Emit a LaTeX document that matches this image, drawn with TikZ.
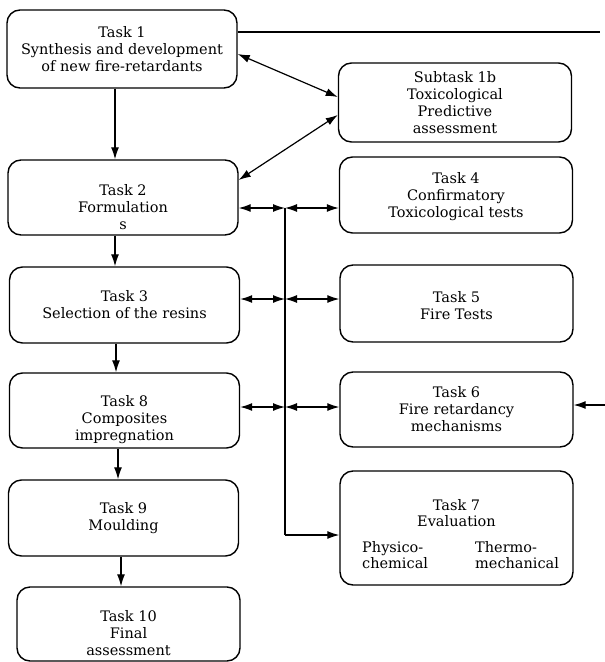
\documentclass[tikz,border=0pt]{standalone}
\usepackage{fontspec}
\setmainfont{DejaVu Serif}
\usetikzlibrary{arrows.meta}

\newcommand{\lowered}{\rule{0pt}{30pt}}

\tikzset{
  taskbox/.style={draw, line width=1.4pt, rounded corners=13pt, align=center,
    font=\fontsize{14.5}{17}\selectfont, inner sep=2pt},
  leftbox/.style={taskbox, minimum width=230pt, minimum height=76pt},
  rightbox/.style={taskbox, minimum width=233pt, minimum height=77pt},
  boxtext/.style={align=left, font=\fontsize{14.5}{16}\selectfont, inner sep=0pt},
  link/.style={line width=1.2pt, -{Latex[length=12pt,width=8pt]}},
  dlink/.style={line width=1.2pt, {Latex[length=12pt,width=8pt]}-{Latex[length=12pt,width=8pt]}},
}

\begin{document}
\begin{tikzpicture}[x=1pt,y=-1pt]
  \useasboundingbox (0,0) rectangle (605,662);

  % left column
  \node[leftbox, minimum height=78pt] (t1) at (122,49) {Task 1\\Synthesis and development\\of new fire-retardants};
  \node[leftbox, minimum height=75pt] (t2) at (123,197.5) {\lowered Task 2\\Formulation\\s};
  \node[leftbox] (t3) at (124.5,305) {Task 3\\Selection of the resins};
  \node[leftbox, minimum height=75pt] (t8) at (124.5,410.5) {\lowered Task 8\\Composites\\impregnation};
  \node[leftbox] (t9) at (123.5,518) {Task 9\\Moulding};
  \node[leftbox, minimum width=223pt, minimum height=74pt, inner ysep=0pt] (t10) at (128.5,624) {\lowered Task 10\\Final\\assessment};

  % right column
  \node[rightbox, minimum height=79pt] (s1b) at (455,102.5) {Subtask 1b\\Toxicological\\Predictive\\assessment};
  \node[rightbox, minimum height=76pt] (t4) at (456,195) {\rule{0pt}{14pt}Task 4\\Confirmatory\\Toxicological tests};
  \node[rightbox] (t5) at (456.5,303.5) {\rule{0pt}{16pt}Task 5\\Fire Tests};
  \node[rightbox, minimum height=75pt] (t6) at (456.5,409.5) {Task 6\\Fire retardancy\\mechanisms};
  \node[rightbox, minimum height=114pt] (t7) at (456.5,528) {};
  \node[boxtext, align=center] (t7title) at (456.5,513) {Task 7\\Evaluation};
  \node[boxtext, anchor=west] (t7phys) at (362,555) {Physico-\\chemical};
  \node[boxtext, anchor=west] (t7therm) at (475,555) {Thermo-\\mechanical};

  % down the left column
  \draw[link] ([xshift=-7pt]t1.south) -- ([xshift=-8pt]t2.north);
  \draw[link] ([xshift=-8pt]t2.south) -- ([xshift=-9.5pt]t3.north);
  \draw[link] ([xshift=-8.5pt]t3.south) -- ([xshift=-8.5pt]t8.north);
  \draw[link] ([xshift=-6.5pt]t8.south) -- ([xshift=-5.5pt]t9.north);
  \draw[link] ([xshift=-2.5pt]t9.south) -- ([xshift=-7.5pt]t10.north);

  % subtask 1b
  \draw[dlink] ([yshift=-5pt]t1.east) -- ([yshift=5.5pt]s1b.west);
  \draw[dlink] ([yshift=17.5pt]t2.east) -- ([yshift=-12.5pt]s1b.west);

  % line leaving task 1
  \coordinate (top1) at (600,32);
  \draw[line width=1.2pt] (top1 -| t1.east) -- (top1);

  % bus between the columns
  \coordinate (bus2) at (285,208);
  \coordinate (bus3) at (285,299);
  \coordinate (bus8) at (285,407);
  \coordinate (bus7) at (285,535);
  \draw[line width=1.2pt] (bus2) -- (bus7);
  \draw[dlink] (bus2 -| t2.east) -- (bus2);
  \draw[dlink] (bus2) -- (bus2 -| t4.west);
  \draw[dlink] (bus3 -| t3.east) -- (bus3);
  \draw[dlink] (bus3) -- (bus3 -| t5.west);
  \draw[dlink] (bus8 -| t8.east) -- (bus8);
  \draw[dlink] (bus8) -- (bus8 -| t6.west);
  \draw[link] (bus7) -- (bus7 -| t7.west);

  % input to task 6 from the right
  \coordinate (feed6) at (605,405);
  \draw[link] (feed6) -- (feed6 -| t6.east);
\end{tikzpicture}
\end{document}
